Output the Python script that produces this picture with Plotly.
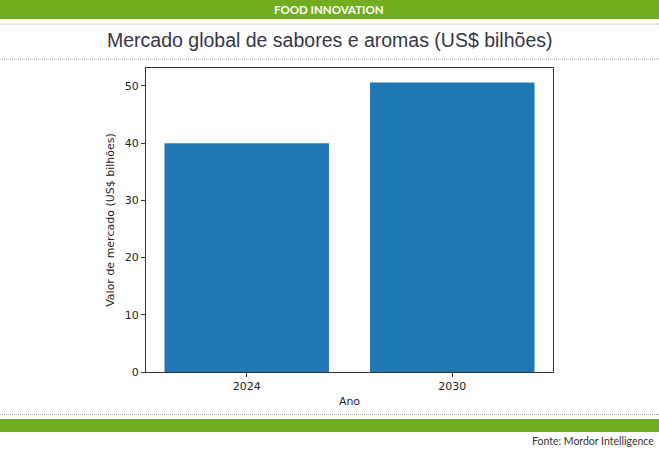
import plotly.graph_objects as go

years = ["2024", "2030"]
values = [40.0, 50.6]

W, H = 659, 450
L, R, T, B = 146, 553, 68, 372
pw, ph = R - L, B - T

def px(x):
    return (x - L) / pw

def py(y):
    return (B - y) / ph

GREEN = "#71ad1f"

fig = go.Figure(go.Bar(
    x=years, y=values, width=0.8,
    marker=dict(color="#1f77b4", line=dict(width=0)),
))

shapes = []
shapes.append(dict(type="rect", xref="paper", yref="paper", x0=px(0), x1=px(W), y0=py(19), y1=py(0),
                   fillcolor=GREEN, line=dict(width=0), layer="below"))
shapes.append(dict(type="rect", xref="paper", yref="paper", x0=px(0), x1=px(W), y0=py(432), y1=py(419),
                   fillcolor=GREEN, line=dict(width=0), layer="below"))
for yy in (24, 59, 414.5):
    shapes.append(dict(type="line", xref="paper", yref="paper", x0=px(0), x1=px(W), y0=py(yy), y1=py(yy),
                       line=dict(color="#a8a8a8", width=1, dash="1px,1px")))

annotations = [
    dict(text="<b>FOOD INNOVATION</b>", xref="paper", yref="paper", x=px(329), y=py(9.5),
         showarrow=False, font=dict(family="Lato, Open Sans, sans-serif", size=11.5, color="white"),
         xanchor="center", yanchor="middle"),
    dict(text="Mercado global de sabores e aromas (US$ bilhões)", xref="paper", yref="paper",
         x=px(329), y=py(40), showarrow=False,
         font=dict(family="Liberation Sans, Arial, sans-serif", size=19.5, color="#363649"),
         xanchor="center", yanchor="middle"),
    dict(text="Fonte: Mordor Intelligence", xref="paper", yref="paper", x=px(656), y=py(441),
         showarrow=False, font=dict(family="Lato, sans-serif", size=10.5, color="#333333"),
         xanchor="right", yanchor="middle"),
]

fig.update_layout(
    width=W, height=H,
    margin=dict(l=L, r=W - R, t=T, b=H - B, pad=0),
    paper_bgcolor="white", plot_bgcolor="white",
    shapes=shapes, annotations=annotations,
    showlegend=False, bargap=0.2,
    font=dict(family="DejaVu Sans, sans-serif", size=11, color="#222222"),
)
fig.update_xaxes(
    type="category", range=[-0.49, 1.49],
    showline=True, linecolor="#333333", linewidth=1, mirror=True,
    ticks="outside", ticklen=4, tickcolor="#333333", showgrid=False,
    title=dict(text="Ano", font=dict(size=11), standoff=5),
    tickfont=dict(size=11),
)
fig.update_yaxes(
    range=[0, 53.13], tickvals=[0, 10, 20, 30, 40, 50],
    showline=True, linecolor="#333333", linewidth=1, mirror=True,
    ticks="outside", ticklen=4, tickcolor="#333333", showgrid=False, zeroline=False,
    title=dict(text="Valor de mercado (US$ bilhões)", font=dict(size=11), standoff=7),
    tickfont=dict(size=11),
)

fig.write_html("out.html", config={"displayModeBar": False, "staticPlot": True},
               post_script="document.body.style.margin='0';document.body.style.overflow='hidden';")
